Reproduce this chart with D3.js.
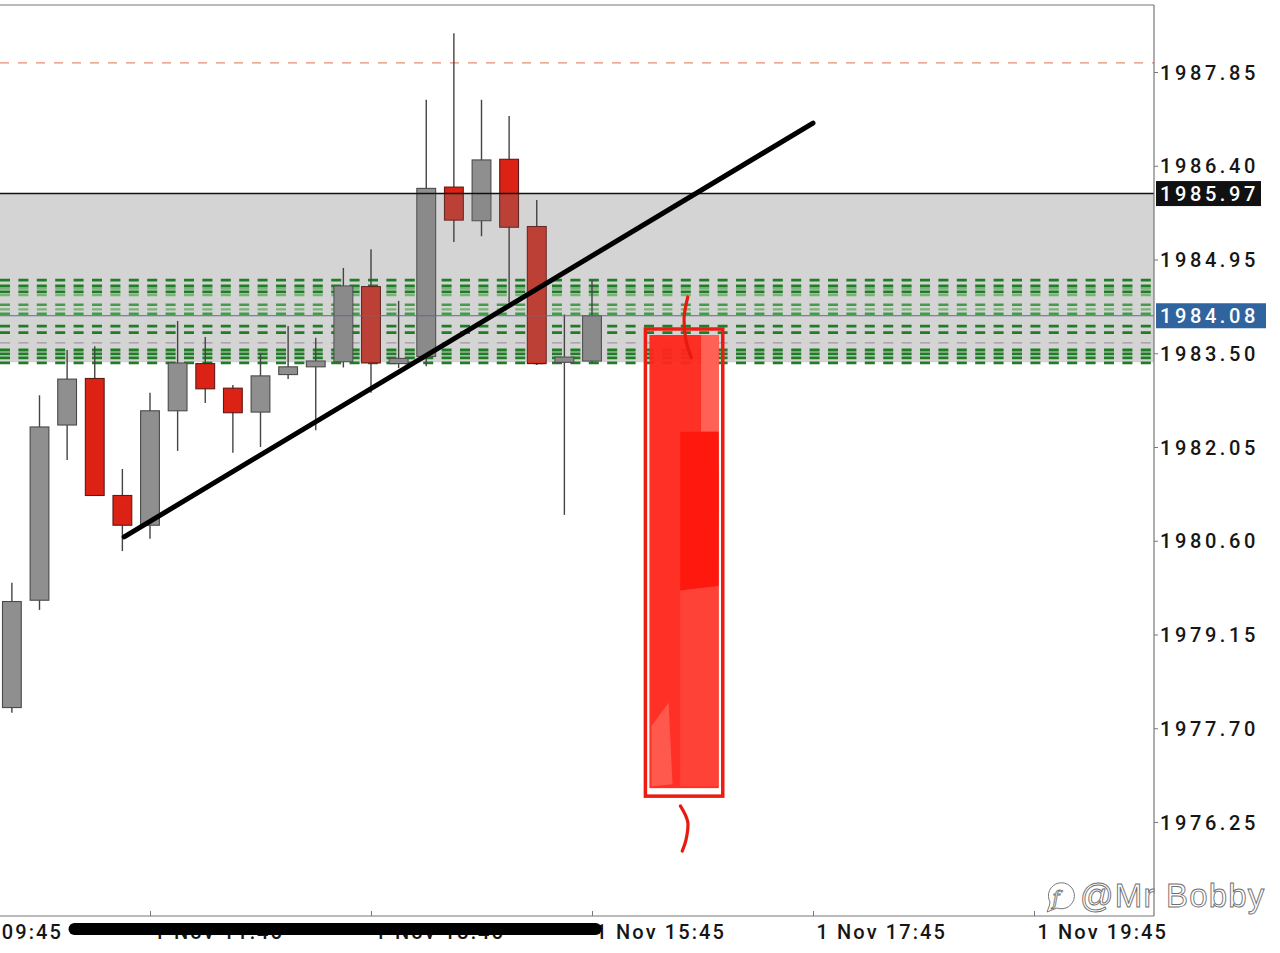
<!DOCTYPE html>
<html><head><meta charset="utf-8">
<script src="https://cdn.jsdelivr.net/npm/d3@7"></script>
<style>html,body{margin:0;padding:0;background:#fff;overflow:hidden}</style>
</head><body><svg id="c" width="1280" height="953"></svg>
<script>
// ---------------- DATA ----------------
const candleTimes = ["10:30","10:45","11:00","11:15","11:30","11:45","12:00","12:15","12:30","12:45","13:00",
                     "13:15","13:30","13:45","14:00","14:15","14:30","14:45","15:00","15:15","15:30","15:45"];
const opens  = [1978.02,1979.68,1982.39,1983.11,1981.30,1980.84,1982.61,1983.34,1982.96,1982.59,1983.17,
                1983.29,1983.37,1984.53,1983.34,1983.45,1986.07,1985.55,1986.50,1985.46,1983.36,1983.38];
const highs  = [1979.95,1982.85,1983.55,1983.61,1981.71,1982.89,1984.00,1983.75,1983.01,1983.50,1983.92,
                1983.74,1984.82,1985.11,1984.31,1987.42,1988.45,1987.42,1987.17,1985.87,1984.10,1984.63];
const lows   = [1977.94,1979.53,1981.85,1981.30,1980.44,1980.63,1981.99,1982.73,1981.96,1982.05,1983.10,
                1982.31,1983.28,1982.89,1983.27,1983.30,1985.22,1985.31,1984.28,1983.32,1981.00,1983.36];
const closes = [1979.66,1982.36,1983.10,1981.30,1980.84,1982.61,1983.35,1982.95,1982.58,1983.15,1983.29,
                1983.38,1984.54,1983.35,1983.42,1986.05,1985.56,1986.49,1985.45,1983.34,1983.44,1984.08];

const yTicks = [1976.25,1977.70,1979.15,1980.60,1982.05,1983.50,1984.95,1986.40,1987.85];
const xTicks = ["09:45","11:45","13:45","15:45","17:45","19:45"];
const xTickLabels = ["1 Nov 09:45","1 Nov 11:45","1 Nov 13:45","1 Nov 15:45","1 Nov 17:45","1 Nov 19:45"];

const zoneRange = [1983.36, 1985.97];
const resistanceLevel = 1985.97;
const currentPrice = 1984.08;
const targetLevel = 1987.99;
const greenLevels = [1984.63,1984.54,1984.50,1984.45,1984.40,1984.25,1984.18,1984.11,
                     1983.92,1983.82,1983.66,1983.55,1983.49,1983.43,1983.35];

const trendTimes = ["11:31","17:45"];
const trendPrices = [1980.66,1987.06];

const boxTimes = ["16:14","16:56"];
const boxPrices = [1983.875,1976.65];
const markTopTimes = ["16:37","16:35","16:36","16:39"];
const markTopPrices = [1984.37,1984.05,1983.70,1983.43];
const markBotTimes = ["16:33","16:37","16:36","16:34"];
const markBotPrices = [1976.50,1976.25,1975.97,1975.80];
const scribbleTimes = ["11:04","15:47"];

// ---------------- DRAW ----------------
const W = 1280, H = 953;
const plot = {left:0, top:5, right:1154, bottom:916};
const FONT = "Roboto,'Liberation Sans',Arial,sans-serif";
const parse = d3.timeParse("%H:%M");
const svg = d3.select("#c");

const x = d3.scaleTime().domain([parse("11:45"), parse("19:45")]).range([150, 1034]);
const y = d3.scaleLinear().domain([1976.25, 1987.85]).range([822, 72]);

const candles = candleTimes.map((t,i)=>({t:parse(t),o:opens[i],h:highs[i],l:lows[i],c:closes[i]}));
const step = x(parse("10:45")) - x(parse("10:30"));
const bw = step*0.68;

const defs = svg.append("defs");
defs.append("clipPath").attr("id","plotclip").append("rect")
  .attr("x",plot.left).attr("y",plot.top).attr("width",plot.right-plot.left).attr("height",plot.bottom-plot.top);

svg.append("rect").attr("width",W).attr("height",H).attr("fill","#fff");
const g = svg.append("g").attr("clip-path","url(#plotclip)");

// zone
g.append("rect").attr("x",plot.left).attr("width",plot.right-plot.left)
  .attr("y",y(zoneRange[1])).attr("height",y(zoneRange[0])-y(zoneRange[1])).attr("fill","#d4d4d4");

// green dashed levels
const shade = ["d","d","l","d","l","m","l","m","d","d","g","d","d","d","d"];
const shadeColor = {d:"#1f7d25", m:"#479a4b", l:"#78b379", g:"#9a9a9a"};
const shadeW = {d:2.8, m:2.6, l:2.2, g:1.2};
g.selectAll("line.green").data(greenLevels).join("line").attr("class","green")
  .attr("x1",plot.left).attr("x2",plot.right)
  .attr("y1",d=>y(d)).attr("y2",d=>y(d))
  .attr("stroke",(d,i)=>shadeColor[shade[i]]).attr("stroke-width",(d,i)=>shadeW[shade[i]])
  .attr("stroke-dasharray","10,8.4");

// orange target
g.append("line").attr("x1",plot.left).attr("x2",plot.right)
  .attr("y1",y(targetLevel)).attr("y2",y(targetLevel))
  .attr("stroke","#e38e74").attr("stroke-width",1.3).attr("stroke-dasharray","9,9");

// candles
const up = d=>d.c>=d.o;
g.selectAll("line.wick").data(candles).join("line").attr("class","wick")
  .attr("x1",d=>x(d.t)).attr("x2",d=>x(d.t)).attr("y1",d=>y(d.h)).attr("y2",d=>y(d.l))
  .attr("stroke","#444").attr("stroke-width",1.4);
const bodyAttrs = sel => sel
  .attr("x",d=>x(d.t)-bw/2).attr("width",bw)
  .attr("y",d=>y(Math.max(d.o,d.c)))
  .attr("height",d=>Math.max(2.5,Math.abs(y(d.o)-y(d.c))));
g.selectAll("rect.body").data(candles).join("rect").attr("class","body").call(bodyAttrs)
  .attr("fill",d=>up(d)?"#8f8f8f":"#dc2214")
  .attr("stroke",d=>up(d)?"#4a4a4a":"#5e1a14").attr("stroke-width",1.1);

// zone tint over candle bodies
defs.append("clipPath").attr("id","bodyclip").selectAll("rect").data(candles).join("rect").call(bodyAttrs);
g.append("rect").attr("clip-path","url(#bodyclip)")
  .attr("x",plot.left).attr("width",plot.right-plot.left)
  .attr("y",y(zoneRange[1])).attr("height",y(zoneRange[0])-y(zoneRange[1]))
  .attr("fill","rgba(128,128,128,0.33)");

// resistance & current price lines
g.append("line").attr("x1",plot.left).attr("x2",plot.right)
  .attr("y1",y(resistanceLevel)).attr("y2",y(resistanceLevel)).attr("stroke","#111").attr("stroke-width",1.5);
g.append("line").attr("x1",plot.left).attr("x2",plot.right)
  .attr("y1",y(currentPrice)).attr("y2",y(currentPrice)).attr("stroke","#5d6b8a").attr("stroke-width",1.2);

// trend line
g.append("line")
  .attr("x1",x(parse(trendTimes[0]))).attr("y1",y(trendPrices[0]))
  .attr("x2",x(parse(trendTimes[1]))).attr("y2",y(trendPrices[1]))
  .attr("stroke","#000").attr("stroke-width",5).attr("stroke-linecap","round");

// red hand-drawn annotation
const bx0 = x(parse(boxTimes[0])), bx1 = x(parse(boxTimes[1]));
const by0 = y(boxPrices[0]), by1 = y(boxPrices[1]);
const bwid = bx1-bx0, bhei = by1-by0;
g.append("rect").attr("x",bx0+4).attr("y",by0+6).attr("width",bwid-8).attr("height",bhei-14)
  .attr("fill","#ff261b").attr("opacity",0.95);
g.append("path").attr("d",`M${bx0+bwid*0.72},${by0+6} L${bx1-4},${by0+6} L${bx1-4},${by0+bhei*0.22} L${bx0+bwid*0.72},${by0+bhei*0.22} Z`)
  .attr("fill","#ff6a5e").attr("opacity",0.85);
g.append("path").attr("d",`M${bx0+bwid*0.45},${by0+bhei*0.22} L${bx1-4},${by0+bhei*0.22} L${bx0+bwid*0.95},${by0+bhei*0.33} L${bx1-4},${by0+bhei*0.55} L${bx0+bwid*0.45},${by0+bhei*0.56} Z`)
  .attr("fill","#ff160c").attr("opacity",0.9);
g.append("path").attr("d",`M${bx0+bwid*0.45},${by0+bhei*0.56} L${bx1-4},${by0+bhei*0.55} L${bx1-4},${by1-10} L${bx0+bwid*0.45},${by1-10} Z`)
  .attr("fill","#ff4a40").attr("opacity",0.7);
g.append("path").attr("d",`M${bx0+6},${by0+bhei*0.85} L${bx0+bwid*0.3},${by0+bhei*0.8} L${bx0+bwid*0.35},${by1-12} L${bx0+6},${by1-10} Z`)
  .attr("fill","#ff7a70").attr("opacity",0.55);
g.append("rect").attr("x",bx0).attr("y",by0).attr("width",bwid).attr("height",bhei)
  .attr("fill","none").attr("stroke","#ec1c12").attr("stroke-width",3.5);
const markLine = d3.line().x(d=>x(parse(d[0]))).y(d=>y(d[1])).curve(d3.curveCatmullRom);
g.append("path").attr("d",markLine(markTopTimes.map((t,i)=>[t,markTopPrices[i]])))
  .attr("fill","none").attr("stroke","#e8190f").attr("stroke-width",3.2).attr("stroke-linecap","round");
g.append("path").attr("d",markLine(markBotTimes.map((t,i)=>[t,markBotPrices[i]])))
  .attr("fill","none").attr("stroke","#e8190f").attr("stroke-width",3.2).attr("stroke-linecap","round");

// ---------------- AXES ----------------
svg.append("line").attr("x1",plot.left).attr("x2",plot.right).attr("y1",plot.top).attr("y2",plot.top)
  .attr("stroke","#777").attr("stroke-width",1.2);

const yAxis = d3.axisRight(y).tickValues(yTicks).tickSize(4).tickFormat(d3.format(".2f"));
const ya = svg.append("g").attr("transform",`translate(${plot.right},0)`).call(yAxis);
ya.select(".domain").attr("d",`M0,${plot.top}V${plot.bottom}`).attr("stroke","#777").attr("stroke-width",1.2);
ya.selectAll(".tick line").attr("stroke","#777");
ya.selectAll(".tick text").attr("x",6).attr("dy","0.36em")
  .style("font-family",FONT).style("font-size","20px").style("font-weight","500")
  .style("letter-spacing","3.6px").attr("fill","#161616");

const xAxis = d3.axisBottom(x).tickValues(xTicks.map(parse)).tickSize(-5)
  .tickFormat((d,i)=>xTickLabels[i]);
const xa = svg.append("g").attr("transform",`translate(0,${plot.bottom})`).call(xAxis);
xa.select(".domain").attr("d",`M${plot.left},0H${plot.right}`).attr("stroke","#777").attr("stroke-width",1.2);
xa.selectAll(".tick line").attr("stroke","#777");
xa.selectAll(".tick text").attr("text-anchor","start").attr("x",3).attr("y",23).attr("dy",0)
  .style("font-family",FONT).style("font-size","20px").style("font-weight","500")
  .style("letter-spacing","2.1px").attr("fill","#161616");

// price tags
function tag(v, color, w){
  const gy = y(v);
  svg.append("rect").attr("x",plot.right+2).attr("y",gy-12.5).attr("width",w).attr("height",25).attr("fill",color);
  svg.append("text").attr("x",plot.right+6).attr("y",gy).attr("dy","0.36em")
    .style("font-family",FONT).style("font-size","20px").style("font-weight","500")
    .style("letter-spacing","3.6px").attr("fill","#fff").text(d3.format(".2f")(v));
}
tag(resistanceLevel,"#111",105);
tag(currentPrice,"#30649f",110);

// black scribble over labels
svg.append("line").attr("x1",x(parse(scribbleTimes[0]))).attr("x2",x(parse(scribbleTimes[1])))
  .attr("y1",plot.bottom+13).attr("y2",plot.bottom+13)
  .attr("stroke","#000").attr("stroke-width",12).attr("stroke-linecap","round");

// watermark
const wm = svg.append("g");
wm.append("path").attr("d","M1047,912 Q1050,905 1050,902 A13,13 0 1 1 1057,908 Q1052,910 1047,912 Z")
  .attr("fill","#fff").attr("stroke","#777").attr("stroke-width",1);
wm.append("text").attr("x",1056).attr("y",905).attr("text-anchor","middle")
  .style("font-family","'DejaVu Serif',serif").style("font-style","italic").style("font-size","20px")
  .attr("fill","#fff").attr("stroke","#777").attr("stroke-width",0.9).text("f");
wm.append("text").attr("x",1080).attr("y",907)
  .style("font-family","'Liberation Sans',Arial,sans-serif").style("font-size","33px").style("font-weight","300")
  .style("letter-spacing","1.2px")
  .attr("fill","#fff").attr("stroke","#6e6e6e").attr("stroke-width",0.9).text("@Mr Bobby");
</script></body></html>
